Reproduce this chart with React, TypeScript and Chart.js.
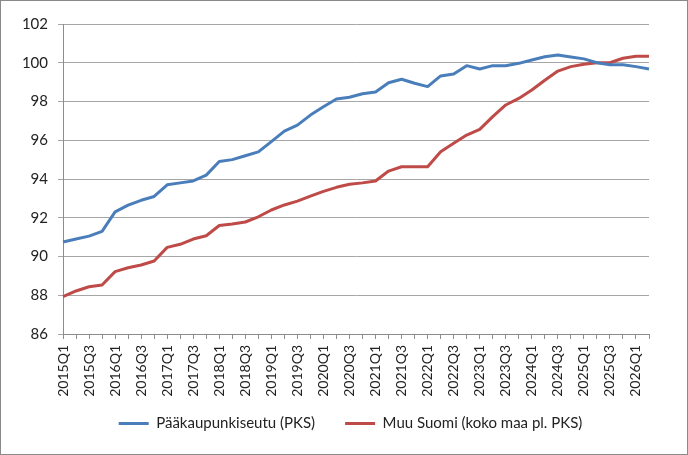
import { useEffect, useRef } from 'react';
import { Chart, registerables } from 'chart.js';

Chart.register(...registerables);

// quarterly index, 2015Q1 .. 2026Q2
const quarters = [
  '2015Q1', '2015Q2', '2015Q3', '2015Q4',
  '2016Q1', '2016Q2', '2016Q3', '2016Q4',
  '2017Q1', '2017Q2', '2017Q3', '2017Q4',
  '2018Q1', '2018Q2', '2018Q3', '2018Q4',
  '2019Q1', '2019Q2', '2019Q3', '2019Q4',
  '2020Q1', '2020Q2', '2020Q3', '2020Q4',
  '2021Q1', '2021Q2', '2021Q3', '2021Q4',
  '2022Q1', '2022Q2', '2022Q3', '2022Q4',
  '2023Q1', '2023Q2', '2023Q3', '2023Q4',
  '2024Q1', '2024Q2', '2024Q3', '2024Q4',
  '2025Q1', '2025Q2', '2025Q3', '2025Q4',
  '2026Q1', '2026Q2',
];

const pks = [
  90.75, 90.9, 91.05, 91.3, 92.3, 92.65, 92.9, 93.1,
  93.7, 93.8, 93.9, 94.2, 94.9, 95.0, 95.2, 95.4,
  95.93, 96.47, 96.78, 97.3, 97.73, 98.13, 98.22, 98.4,
  98.49, 98.97, 99.15, 98.94, 98.77, 99.32, 99.42, 99.85,
  99.68, 99.85, 99.85, 99.97, 100.14, 100.31, 100.4, 100.3,
  100.2, 100.0, 99.9, 99.9, 99.8, 99.68,
];

const muuSuomi = [
  87.93, 88.22, 88.44, 88.53, 89.22, 89.42, 89.56, 89.77,
  90.47, 90.63, 90.9, 91.07, 91.6, 91.68, 91.78, 92.05,
  92.4, 92.66, 92.86, 93.12, 93.36, 93.57, 93.73, 93.8,
  93.9, 94.41, 94.63, 94.63, 94.63, 95.41, 95.84, 96.27,
  96.56, 97.22, 97.82, 98.16, 98.59, 99.1, 99.57, 99.8,
  99.92, 100.0, 100.0, 100.23, 100.33, 100.33,
];

const seriesNames = ['Pääkaupunkiseutu (PKS)', 'Muu Suomi (koko maa pl. PKS)'];
const yMin = 86;
const yMax = 102;
const yStep = 2;

export default function App() {
  const canvas = useRef<HTMLCanvasElement | null>(null);

  useEffect(() => {
    if (!canvas.current) return;
    Chart.defaults.font.family = 'Lato, "Open Sans", sans-serif';
    Chart.defaults.color = '#222';

    const chart = new Chart(canvas.current, {
      type: 'line',
      data: {
        labels: quarters,
        datasets: [
          {
            label: seriesNames[0],
            data: pks,
            borderColor: '#4a7ebb',
            backgroundColor: '#4a7ebb',
            borderWidth: 3,
            pointRadius: 0,
            tension: 0,
            borderJoinStyle: 'round',
          },
          {
            label: seriesNames[1],
            data: muuSuomi,
            borderColor: '#be4b48',
            backgroundColor: '#be4b48',
            borderWidth: 3,
            pointRadius: 0,
            tension: 0,
            borderJoinStyle: 'round',
          },
        ],
      },
      options: {
        animation: false,
        responsive: true,
        maintainAspectRatio: false,
        // legend box runs 26..675 so it centres like the original
        layout: { padding: { left: 26, right: 13, top: 24, bottom: 14 } },
        plugins: {
          tooltip: { enabled: false },
          legend: {
            position: 'bottom',
            labels: {
              usePointStyle: true,
              pointStyle: 'line',
              pointStyleWidth: 30,
              padding: 30,
              font: { size: 15 },
              color: '#222',
            },
          },
        },
        scales: {
          x: {
            offset: false,
            // box is shorter than the labels so the legend sits up close;
            // turn off the label clip so they can hang past it
            afterFit: (s: any) => {
              s.height = 52;
              s._computeLabelArea = () => null;
            },
            grid: {
              drawOnChartArea: false,
              drawTicks: true,
              tickLength: 5,
              color: '#8c8c8c',
            },
            border: { color: '#8c8c8c' },
            ticks: {
              autoSkip: false,
              minRotation: 90,
              maxRotation: 90,
              padding: 6,
              font: { size: 14 },
              callback: function (this: any, val: any, idx: number) {
                return idx % 2 === 0 ? this.getLabelForValue(val) : '';
              },
            },
          },
          y: {
            min: yMin,
            max: yMax,
            afterFit: (s: any) => {
              s.width = 37;
              s._computeLabelArea = () => null;
            },
            grid: { color: '#a6a6a6', tickLength: 5 },
            border: { color: '#8c8c8c' },
            ticks: { stepSize: yStep, padding: 10, font: { size: 15 } },
          },
          // empty spacer on the right
          yRight: {
            position: 'right',
            afterFit: (s: any) => { s.width = 26; },
            grid: { display: false },
            border: { display: false },
            ticks: { display: false },
          },
        },
      },
    });
    return () => chart.destroy();
  }, []);

  return (
    <div style={{ position: 'absolute', left: 0, top: 0, width: 688, height: 455, background: '#fff' }}>
      <canvas ref={canvas}></canvas>
      <div style={{ position: 'absolute', inset: 0, border: '1px solid #8a8a8a', pointerEvents: 'none' }} />
    </div>
  );
}
